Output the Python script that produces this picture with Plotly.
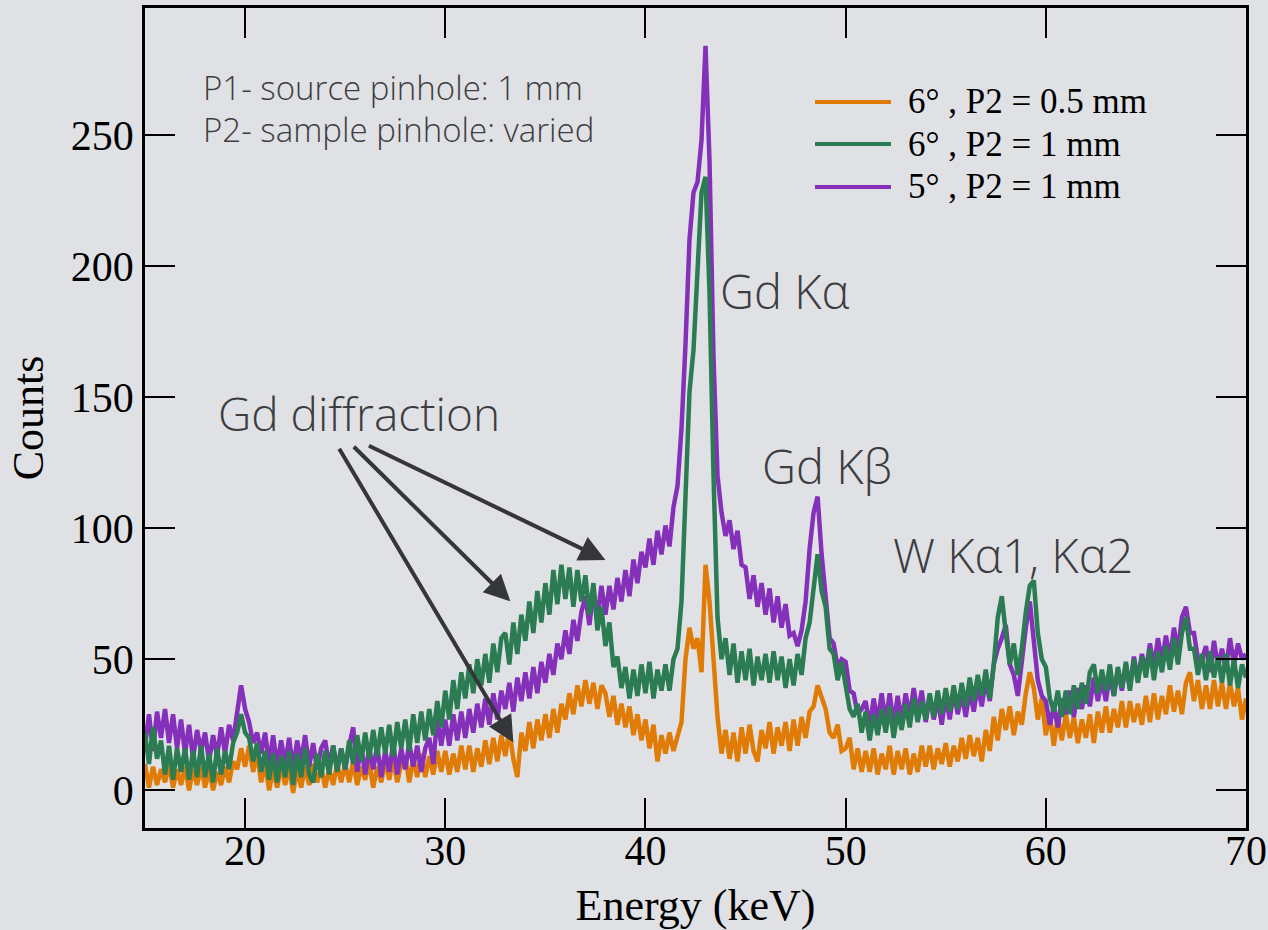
import plotly.graph_objects as go

# Energy grid: start and spacing of the channels (keV)
E_START = 15.0
E_STEP = 0.2

# Counts, one value every 0.2 keV from 15 to 70 keV;
# each row of five values covers one keV (E, E+.2, E+.4, E+.6, E+.8)
orange_05mm = [
    10, 1, 9, 2, 8,     3, 10, 1, 8, 2,     9, 0, 8, 2, 9,      1, 8, 0, 7, 2,
    9, 3, 11, 8, 16,    9, 17, 7, 14, 3,    10, 0, 8, 1, 9,     2, 9, -1, 8, 1,
    9, 2, 10, 3, 9,     1, 8, 2, 10, 3,     10, 3, 11, 2, 9,    4, 11, 1, 9, 3,
    11, 4, 12, 3, 10,   13, 3, 12, 5, 14,   5, 13, 6, 15, 7,    15, 6, 14, 7, 17,
    8, 17, 7, 16, 9,    19, 10, 20, 11, 21, 13, 23, 12, 5, 22,  15, 26, 16, 27, 19,
    29, 20, 31, 22, 33, 27, 37, 29, 40, 32, 42, 33, 41, 31, 40, 37, 28, 36, 25, 33,
    24, 32, 21, 29, 19, 27, 16, 25, 11, 21, 14, 22, 15, 21, 26, 50, 62, 54, 58, 45,
    86, 72, 50, 28, 14, 23, 12, 22, 11, 24, 14, 25, 15, 11, 23, 16, 26, 14, 24, 17,
    26, 15, 27, 17, 28, 20, 30, 32, 40, 35, 31, 22, 20, 25, 15, 16, 20, 8, 16, 7,
    15, 7, 16, 6, 14,   8, 17, 6, 15, 8,    16, 6, 14, 7, 17,   9, 17, 8, 16, 10,
    18, 9, 17, 11, 20,  12, 21, 13, 20, 11, 23, 15, 28, 19, 31, 23, 32, 21, 30, 25,
    37, 45, 39, 27, 35, 21, 29, 17, 28, 19, 29, 20, 28, 18, 27, 20, 29, 18, 30, 22,
    32, 22, 31, 24, 34, 24, 34, 26, 33, 25, 36, 26, 37, 27, 36, 29, 40, 30, 38, 29,
    41, 45, 34, 42, 31, 40, 31, 42, 32, 41, 31, 41, 32, 39, 27,
    35,
]

green_1mm = [
    22, 10, 24, 12, 19, 6, 17, 4, 16, 7,    16, 4, 15, 5, 17,   5, 14, 3, 16, 6,
    15, 8, 18, 22, 29,  22, 20, 11, 18, 7,  15, 4, 14, 3, 13,   5, 15, 2, 14, 5,
    16, 6, 3, 14, 5,    15, 6, 17, 7, 16,   8, 19, 10, 21, 11,  22, 12, 23, 13, 24,
    14, 25, 13, 26, 16, 27, 15, 29, 18, 30, 19, 31, 21, 34, 24, 38, 27, 42, 31, 45,
    35, 48, 37, 50, 40, 52, 41, 56, 45, 58, 60, 48, 64, 52, 67, 57, 72, 60, 76, 64,
    79, 67, 84, 71, 86, 73, 85, 70, 84, 72, 82, 67, 79, 61, 70, 55, 64, 47, 51, 39,
    47, 35, 46, 36, 48, 37, 49, 35, 46, 38, 48, 38, 50, 54, 72, 110, 152, 168, 200, 228,
    234, 190, 120, 66, 50, 58, 44, 56, 41, 53, 42, 54, 40, 51, 42, 52, 41, 53, 42, 51,
    39, 50, 40, 52, 44, 58, 64, 78, 90, 76, 70, 54, 52, 42, 49, 40, 31, 28, 33, 22,
    30, 19, 29, 21, 31, 22, 32, 20, 30, 23, 33, 24, 35, 26, 34, 27, 37, 28, 38, 29,
    39, 30, 40, 31, 41, 32, 43, 34, 44, 36, 46, 35, 48, 66, 74, 60, 48, 56, 44, 54,
    68, 78, 80, 60, 50, 47, 35, 30, 38, 28, 38, 29, 40, 31, 41, 33, 45, 48, 37, 46,
    38, 48, 36, 47, 39, 49, 38, 50, 41, 51, 43, 54, 42, 53, 45, 55, 46, 58, 48, 60,
    66, 54, 54, 44, 52, 42, 53, 43, 51, 41, 52, 40, 50, 39, 48,
    43,
]

purple_1mm = [
    17, 29, 15, 30, 20, 31, 18, 29, 16, 27, 14, 25, 12, 23, 15, 22, 11, 21, 13, 24,
    14, 25, 19, 30, 40, 31, 26, 18, 22, 14, 22, 10, 21, 9, 19,  10, 20, 8, 19, 11,
    21, 9, 18, 8, 16,   19, 9, 17, 8, 16,   8, 17, 24, 7, 17,   6, 16, 8, 17, 5,
    15, 7, 18, 6, 16,   8, 18, 9, 17, 7,    16, 20, 10, 28, 17, 27, 17, 29, 19, 30,
    20, 31, 22, 33, 24, 35, 25, 37, 27, 38, 31, 41, 30, 43, 34, 45, 35, 47, 37, 49,
    41, 52, 44, 56, 50, 61, 52, 65, 57, 68, 74, 63, 76, 66, 78, 67, 78, 69, 81, 72,
    84, 74, 88, 79, 91, 85, 96, 86, 99, 90, 101, 93, 108, 116, 138, 170, 210, 228, 232, 248,
    284, 240, 165, 120, 106, 97, 103, 92, 99, 86, 85, 73, 82, 70, 79, 67, 77, 64, 74, 62,
    71, 59, 60, 55, 61, 72, 92, 106, 112, 90, 74, 58, 56, 47, 50, 49, 38, 37, 29, 31,
    34, 24, 35, 26, 37, 26, 37, 25, 36, 26, 37, 28, 39, 29, 38, 26, 36, 27, 35, 25,
    36, 27, 38, 29, 37, 28, 38, 30, 40, 32, 42, 34, 48, 54, 58, 63, 48, 44, 36, 50,
    62, 72, 58, 42, 36, 34, 25, 32, 24, 35, 29, 38, 28, 39, 31, 40, 32, 43, 34, 42,
    34, 44, 36, 46, 38, 48, 39, 51, 42, 52, 45, 56, 47, 58, 49, 59, 50, 62, 53, 66,
    70, 60, 60, 50, 50, 55, 45, 57, 47, 54, 46, 58, 48, 56, 50,
    52,
]

series_names = ["6° , P2 = 0.5 mm", "6° , P2 = 1 mm", "5° , P2 = 1 mm"]
series_colors = ["#E07B05", "#2B7B53", "#8530BA"]

x_ticks = [20, 30, 40, 50, 60, 70]
y_ticks = [0, 50, 100, 150, 200, 250]

BG = "#E0E1E5"
TXT = "#3C3D40"
SERIF = "Liberation Serif, Times New Roman, serif"
SANS = "Open Sans, sans-serif"

fig = go.Figure()
# draw order: orange, purple, green (green on top)
for vals, idx in [(orange_05mm, 0), (purple_1mm, 2), (green_1mm, 1)]:
    fig.add_trace(go.Scatter(
        y=vals, x0=E_START, dx=E_STEP, mode="lines",
        name=series_names[idx], line=dict(color=series_colors[idx], width=4.5),
        showlegend=False,
    ))

axis_common = dict(
    showline=True, linecolor="black", linewidth=2.5, mirror="ticks",
    ticks="inside", ticklen=30, tickwidth=2, tickcolor="black",
    showgrid=False, zeroline=False, automargin=False,
    tickfont=dict(family=SERIF, size=42, color="black"),
)

fig.update_layout(
    width=1268, height=930,
    margin=dict(l=145, r=22, t=8, b=102),
    paper_bgcolor=BG, plot_bgcolor=BG,
    showlegend=False,
    xaxis=dict(range=[15, 70], tickvals=x_ticks, ticklabelstandoff=-16,
               title=dict(text="Energy (keV)", font=dict(family=SERIF, size=44, color="black"), standoff=20),
               **axis_common),
    yaxis=dict(range=[-14.4, 298.4], tickvals=y_ticks,
               title=dict(text="Counts", font=dict(family=SERIF, size=44, color="black"), standoff=14),
               **axis_common),
)

# custom legend (long line samples), positions in pixels of the 1268x930 page
PX_L, PX_W, PX_B, PX_H = 145, 1101, 828, 820
legend_y_px = [102, 144, 187]
for r, ypx in enumerate(legend_y_px):
    yp = (PX_B - ypx) / PX_H
    fig.add_shape(type="line", xref="paper", yref="paper",
                  x0=(815 - PX_L) / PX_W, x1=(891 - PX_L) / PX_W, y0=yp, y1=yp,
                  line=dict(color=series_colors[r], width=4))
    fig.add_annotation(xref="paper", yref="paper", x=(906 - PX_L) / PX_W, y=yp,
                       xanchor="left", yanchor="middle", showarrow=False,
                       text=series_names[r], font=dict(family=SERIF, size=35, color="black"))

# text notes
notes = [
    ("P1- source pinhole: 1 mm", 201, 88, 33),
    ("P2- sample pinhole: varied", 201, 129, 33),
    ("Gd diffraction", 216, 413, 46),
    ("Gd Kα", 718, 291, 47),
    ("Gd Kβ", 760, 466, 47),
    ("W Kα1, Kα2", 891, 555, 47),
]
for txt, xpx, ypx, fs in notes:
    fig.add_annotation(xref="paper", yref="paper", x=(xpx - PX_L) / PX_W, y=(PX_B - ypx) / PX_H,
                       xanchor="left", yanchor="middle", showarrow=False,
                       text=txt, font=dict(family=SANS, size=fs, color=TXT, weight=300))

# arrows: head in data coords, tail offset in pixels
arrows = [
    (33.4, 18.3, -175, -295),
    (33.25, 72.1, -158, -156),
    (38.0, 87.8, -238, -115),
]
for hx, hy, ax, ay in arrows:
    fig.add_annotation(x=hx, y=hy, xref="x", yref="y", ax=ax, ay=ay, text="",
                       showarrow=True, arrowhead=2, arrowsize=1.3, arrowwidth=4,
                       arrowcolor="#35363A")

fig.write_html("out.html")
